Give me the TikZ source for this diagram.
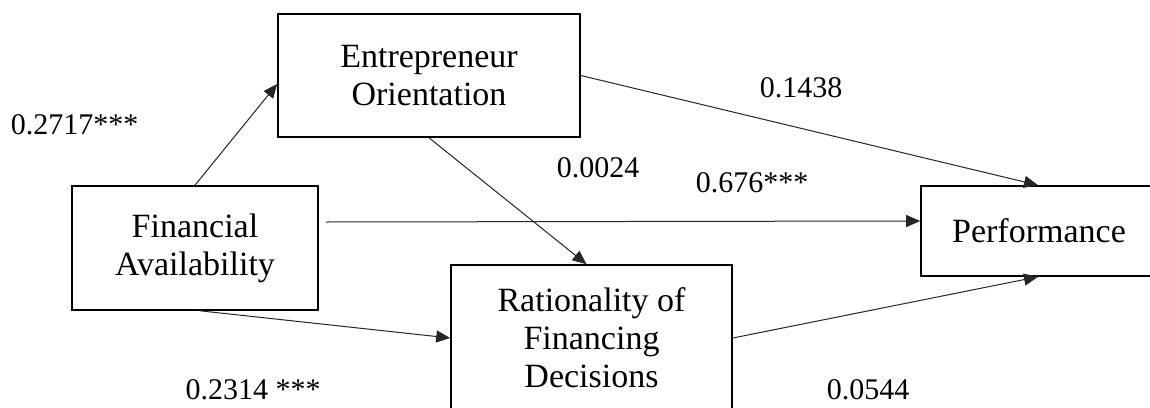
\documentclass[tikz,border=0pt]{standalone}
\usepackage{fontspec}
\setmainfont{Liberation Serif}
\usetikzlibrary{arrows.meta}
\begin{document}
\begin{tikzpicture}[x=1pt,y=-1pt,
  box/.style={draw=black,line width=1.6pt,fill=white,inner sep=0pt,align=center,
    font=\fontsize{34}{38}\selectfont},
  conn/.style={draw=black!85,line width=1pt,-{Triangle[length=14pt,width=12pt]}},
  lbl/.style={inner sep=0pt,font=\fontsize{30}{34}\selectfont}]
\useasboundingbox (0,0) rectangle (1150,407);
\clip (0,0) rectangle (1150,407);
\fill[white] (0,0) rectangle (1150,407);
\node[box,minimum width=302pt,minimum height=123pt] (eo) at (429,75.5) {Entrepreneur\\Orientation};
\node[box,minimum width=246pt,minimum height=124pt] (fa) at (195,248) {Financial\\Availability};
\node[box,minimum width=281pt,minimum height=146pt] (rfd) at (591.5,338) {Rationality of\\Financing\\Decisions};
\node[box,minimum width=236pt,minimum height=90pt] (perf) at (1039,231) {Performance};
\draw[conn] (fa.north) -- ([yshift=-8.5pt]eo.west);
\draw[conn] (eo.south) -- ([xshift=-5pt]rfd.north);
\draw[conn] ([xshift=7pt,yshift=26pt]fa.east) -- ([yshift=10pt]perf.west);
\draw[conn] ([xshift=5pt]fa.south) -- (rfd.west);
\draw[conn] (eo.east) -- ([xshift=-1pt]perf.north);
\draw[conn] (rfd.east) -- ([xshift=-1pt]perf.south);
\node[lbl] (l1) at (74.5,125) {0.2717***};
\node[lbl] (l2) at (253,390) {0.2314 ***};
\node[lbl] (l3) at (598,168) {0.0024};
\node[lbl] (l4) at (752,183) {0.676***};
\node[lbl] (l5) at (801,88) {0.1438};
\node[lbl] (l6) at (868,390) {0.0544};
\end{tikzpicture}
\end{document}
